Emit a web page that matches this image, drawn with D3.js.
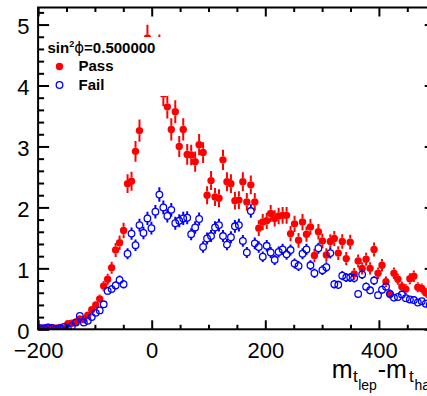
<!DOCTYPE html>
<html>
<head>
<meta charset="utf-8">
<script src="https://cdn.jsdelivr.net/npm/d3@7"></script>
<style>
  html, body { margin: 0; padding: 0; background: #fff; }
  svg { display: block; }
</style>
</head>
<body>
<script>
// Histogram binning of m(t_lep) - m(t_had): 100 bins of width 7 from -200 to 500
const binLow = -200;
const binWidth = 7;

// Normalised yields per bin for events passing the selection
const passValues = [
  0.02, 0.02, 0.03, 0.03, 0.02, 0.03, 0.02, 0.09, 0.10, 0.12,
  0.17, 0.16, 0.23, 0.32, 0.40, 0.50, 0.71, 0.82, 1.01, 1.30,
  1.42, 1.62, 2.39, 2.43, 2.92, 3.26, 4.10, 4.78, 4.50, 4.35,
  4.62, 3.86, 3.65, 3.28, 3.57, 3.00, 3.28, 2.87, 2.86, 2.75,
  3.03, 2.90, 2.20, 2.44, 2.17, 2.15, 2.78, 2.42, 2.39, 2.11,
  2.12, 2.42, 2.09, 2.37, 2.09, 1.66, 1.76, 1.78, 1.90, 1.82,
  1.86, 1.87, 1.87, 1.57, 1.73, 1.46, 1.76, 1.56, 1.68, 1.21,
  1.60, 1.45, 1.22, 1.44, 1.49, 1.25, 1.44, 1.16, 1.43, 0.91,
  1.12, 1.00, 1.15, 1.00, 1.31, 0.92, 1.05, 0.78, 0.58, 0.92,
  0.82, 0.70, 0.66, 0.83, 0.87, 0.69, 0.67, 0.60, 0.55, 0.50
];
const passErrors = [
  0.014, 0.014, 0.017, 0.017, 0.014, 0.017, 0.014, 0.030, 0.032, 0.035,
  0.041, 0.040, 0.048, 0.057, 0.063, 0.071, 0.084, 0.091, 0.100, 0.114,
  0.119, 0.127, 0.155, 0.156, 0.171, 0.181, 0.202, 0.219, 0.212, 0.209,
  0.215, 0.196, 0.191, 0.181, 0.189, 0.173, 0.181, 0.169, 0.169, 0.166,
  0.174, 0.170, 0.148, 0.156, 0.147, 0.147, 0.167, 0.156, 0.155, 0.145,
  0.146, 0.156, 0.145, 0.154, 0.145, 0.129, 0.133, 0.133, 0.138, 0.135,
  0.136, 0.137, 0.137, 0.125, 0.132, 0.121, 0.133, 0.125, 0.130, 0.110,
  0.126, 0.120, 0.110, 0.120, 0.122, 0.112, 0.120, 0.108, 0.120, 0.095,
  0.106, 0.100, 0.107, 0.100, 0.114, 0.096, 0.102, 0.088, 0.076, 0.096,
  0.091, 0.084, 0.081, 0.091, 0.093, 0.083, 0.082, 0.077, 0.074, 0.071
];

// Normalised yields per bin for events failing the selection
const failValues = [
  0.02, 0.02, 0.03, 0.02, 0.01, 0.02, 0.04, 0.01, 0.05, 0.11,
  0.22, 0.11, 0.14, 0.20, 0.27, 0.31, 0.41, 0.63, 0.66, 0.72,
  0.81, 0.74, 1.24, 1.57, 1.38, 1.71, 1.58, 1.82, 1.66, 1.93,
  2.21, 2.00, 1.86, 1.96, 1.74, 1.78, 1.82, 1.83, 1.56, 1.67,
  1.81, 1.35, 1.49, 1.53, 1.67, 1.71, 1.53, 1.39, 1.51, 1.69,
  1.71, 1.45, 1.26, 1.94, 1.41, 1.35, 1.19, 1.37, 1.26, 1.14,
  1.27, 1.31, 1.23, 1.30, 1.08, 1.04, 1.24, 1.31, 1.05, 0.92,
  1.33, 0.97, 1.02, 1.25, 0.74, 0.73, 0.88, 0.85, 0.85, 0.84,
  0.58, 0.90, 0.70, 0.64, 0.80, 0.56, 0.65, 0.70, 0.58, 0.52,
  0.53, 0.57, 0.51, 0.49, 0.48, 0.44, 0.46, 0.42, 0.40, 0.38
];
const failErrors = [
  0.011, 0.011, 0.014, 0.011, 0.008, 0.011, 0.016, 0.008, 0.018, 0.027,
  0.038, 0.027, 0.030, 0.036, 0.042, 0.045, 0.051, 0.063, 0.065, 0.068,
  0.072, 0.069, 0.089, 0.100, 0.094, 0.105, 0.101, 0.108, 0.103, 0.111,
  0.119, 0.113, 0.109, 0.112, 0.106, 0.107, 0.108, 0.108, 0.100, 0.103,
  0.108, 0.093, 0.098, 0.099, 0.103, 0.105, 0.099, 0.094, 0.098, 0.104,
  0.105, 0.096, 0.090, 0.111, 0.095, 0.093, 0.087, 0.094, 0.090, 0.085,
  0.090, 0.092, 0.089, 0.091, 0.083, 0.082, 0.089, 0.092, 0.082, 0.077,
  0.092, 0.079, 0.081, 0.089, 0.069, 0.068, 0.075, 0.074, 0.074, 0.073,
  0.061, 0.076, 0.067, 0.064, 0.072, 0.060, 0.064, 0.067, 0.061, 0.058,
  0.058, 0.060, 0.057, 0.056, 0.055, 0.053, 0.054, 0.052, 0.051, 0.049
];

// Axis ticks
const xMajorTicks = [-200, 0, 200, 400];
const xMinorTicks = [-150, -100, -50, 50, 100, 150, 250, 300, 350, 450, 500];
const yMajorTicks = [0, 1, 2, 3, 4, 5];
const yMinorTicks = [0.2, 0.4, 0.6, 0.8, 1.2, 1.4, 1.6, 1.8, 2.2, 2.4, 2.6, 2.8,
                     3.2, 3.4, 3.6, 3.8, 4.2, 4.4, 4.6, 4.8, 5.2];

// Legend entries
const legendHeader = { base: "sin", sup: "2", symbol: "\u03D5", rest: "=0.500000" };
const legendLabels = ["Pass", "Fail"];

const W = 427, H = 396;
const frame = { left: 38.1, right: 435.7, top: 7.5, bottom: 329.3 };
const font = "'Liberation Sans', Arial, Helvetica, sans-serif";

const svg = d3.select("body").append("svg")
  .attr("width", W).attr("height", H)
  .attr("viewBox", `0 0 ${W} ${H}`);

const x = d3.scaleLinear().domain([-200, 500]).range([frame.left, frame.right]);
const y = d3.scaleLinear().domain([0, 5.28]).range([frame.bottom, frame.top]);

svg.append("defs").append("clipPath").attr("id", "plotClip")
  .append("rect")
  .attr("x", frame.left).attr("y", frame.top)
  .attr("width", frame.right - frame.left)
  .attr("height", frame.bottom - frame.top);

function toPoints(values, errors) {
  return values.map((v, i) => ({ c: binLow + binWidth * (i + 0.5), v, e: errors[i] }));
}

const series = [
  { name: "pass", color: "#ff0000", filled: true, r: 3.7, points: toPoints(passValues, passErrors) },
  { name: "fail", color: "#0000ff", filled: false, r: 3.3, points: toPoints(failValues, failErrors) }
];

const dataLayer = svg.append("g").attr("clip-path", "url(#plotClip)");

series.forEach(s => {
  const g = dataLayer.append("g").attr("class", s.name);
  // error bars, drawn outside the marker
  g.selectAll("path.err").data(s.points).join("path")
    .attr("class", "err")
    .attr("d", d => {
      const cx = x(d.c), cy = y(d.v);
      const yHi = y(d.v + d.e), yLo = y(d.v - d.e);
      let p = "";
      if (cy - s.r > yHi) p += `M${cx},${yHi}V${cy - s.r}`;
      if (cy + s.r < yLo) p += `M${cx},${cy + s.r}V${yLo}`;
      return p || null;
    })
    .attr("stroke", s.color).attr("stroke-width", 2).attr("fill", "none");
  g.selectAll("circle").data(s.points).join("circle")
    .attr("cx", d => x(d.c)).attr("cy", d => y(d.v))
    .attr("r", s.r)
    .attr("fill", s.filled ? s.color : "none")
    .attr("stroke", s.color)
    .attr("stroke-width", s.filled ? 0 : 1.3);
});

// Legend box (opaque, drawn over the data)
const legend = svg.append("g");
legend.append("rect")
  .attr("x", 45).attr("y", 37).attr("width", 123).attr("height", 59)
  .attr("fill", "#fff");

const header = legend.append("text")
  .attr("x", 47.5).attr("y", 52.5)
  .attr("font-family", font).attr("font-weight", "bold").attr("font-size", 15)
  .attr("fill", "#000");
header.append("tspan").text(legendHeader.base);
header.append("tspan").attr("font-size", 9).attr("dy", -5.5).text(legendHeader.sup);
header.append("tspan").attr("font-family", "'DejaVu Sans', sans-serif").attr("font-weight", "normal")
  .attr("dy", 5.5).text(legendHeader.symbol);
header.append("tspan").text(legendHeader.rest);

const entryY = [66.5, 85];
legend.append("circle").attr("cx", 59.5).attr("cy", entryY[0]).attr("r", 3.7).attr("fill", "#ff0000");
legend.append("circle").attr("cx", 59.5).attr("cy", entryY[1]).attr("r", 3.3)
  .attr("fill", "none").attr("stroke", "#0000ff").attr("stroke-width", 1.3);
legend.selectAll("text.entry").data(legendLabels).join("text")
  .attr("class", "entry")
  .attr("x", 78.5).attr("y", (d, i) => entryY[i] + 4.5)
  .attr("font-family", font).attr("font-weight", "bold").attr("font-size", 15)
  .attr("fill", "#000")
  .text(d => d);

// Axes: ticks on all four sides, labels on bottom and left
function styleAxis(g) {
  g.select(".domain").remove();
  g.selectAll(".tick line").attr("stroke", "#000").attr("stroke-width", 2);
}

svg.append("g").attr("transform", `translate(0,${frame.bottom})`)
  .call(d3.axisBottom(x).tickValues(xMinorTicks).tickSize(-4.5).tickFormat(""))
  .call(styleAxis);
const xAxis = svg.append("g").attr("transform", `translate(0,${frame.bottom})`)
  .call(d3.axisBottom(x).tickValues(xMajorTicks).tickSize(-9).tickPadding(0)
    .tickFormat(d => d < 0 ? "\u2212" + Math.abs(d) : String(d)))
  .call(styleAxis);
xAxis.selectAll(".tick text")
  .attr("y", 28.3).attr("dy", null)
  .attr("font-family", font).attr("font-size", 22).attr("fill", "#000");

svg.append("g").attr("transform", `translate(0,${frame.top})`)
  .call(d3.axisTop(x).tickValues(xMinorTicks).tickSize(-4.5).tickFormat(""))
  .call(styleAxis);
svg.append("g").attr("transform", `translate(0,${frame.top})`)
  .call(d3.axisTop(x).tickValues(xMajorTicks).tickSize(-9).tickFormat(""))
  .call(styleAxis);

svg.append("g").attr("transform", `translate(${frame.left},0)`)
  .call(d3.axisLeft(y).tickValues(yMinorTicks).tickSize(-6).tickFormat(""))
  .call(styleAxis);
const yAxis = svg.append("g").attr("transform", `translate(${frame.left},0)`)
  .call(d3.axisLeft(y).tickValues(yMajorTicks).tickSize(-11).tickPadding(8.6).tickFormat(d3.format("d")))
  .call(styleAxis);
yAxis.selectAll(".tick text")
  .attr("dy", null).attr("y", 9.2)
  .attr("font-family", font).attr("font-size", 22).attr("fill", "#000");

svg.append("g").attr("transform", `translate(${frame.right},0)`)
  .call(d3.axisRight(y).tickValues(yMinorTicks).tickSize(-6).tickFormat(""))
  .call(styleAxis);
svg.append("g").attr("transform", `translate(${frame.right},0)`)
  .call(d3.axisRight(y).tickValues(yMajorTicks).tickSize(-11).tickFormat(""))
  .call(styleAxis);

// Frame
svg.append("rect")
  .attr("x", frame.left).attr("y", frame.top)
  .attr("width", frame.right - frame.left).attr("height", frame.bottom - frame.top)
  .attr("fill", "none").attr("stroke", "#000").attr("stroke-width", 2);

// Axis title: m_{t_{lep}} - m_{t_{had}}
const title = svg.append("g").attr("font-family", font).attr("fill", "#000");
const titleParts = [
  { t: "m", x: 331.8, y: 378.3, s: 25 },
  { t: "t", x: 353.0, y: 381.8, s: 17 },
  { t: "lep", x: 358.2, y: 390.2, s: 14 },
  { t: "-m", x: 377.8, y: 378.3, s: 25 },
  { t: "t", x: 409.0, y: 381.8, s: 17 },
  { t: "had", x: 414.5, y: 390.2, s: 14 }
];
title.selectAll("text").data(titleParts).join("text")
  .attr("x", d => d.x).attr("y", d => d.y)
  .attr("font-size", d => d.s)
  .text(d => d.t);
</script>
</body>
</html>
